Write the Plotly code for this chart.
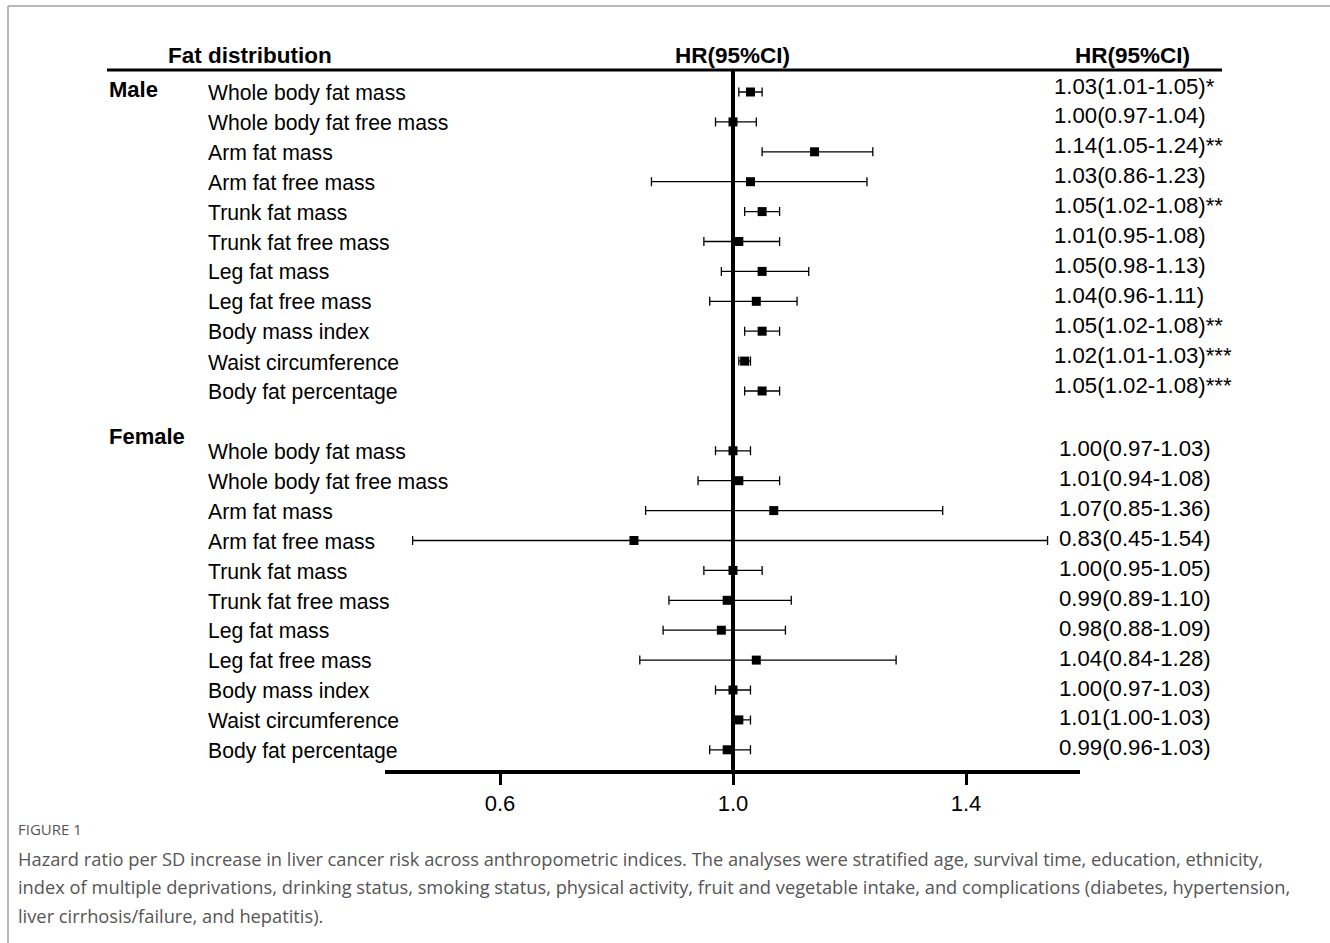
import plotly.graph_objects as go

W, H = 1330, 943

labels = ["Whole body fat mass", "Whole body fat free mass", "Arm fat mass", "Arm fat free mass",
          "Trunk fat mass", "Trunk fat free mass", "Leg fat mass", "Leg fat free mass",
          "Body mass index", "Waist circumference", "Body fat percentage"]

male_hr = [1.03, 1.00, 1.14, 1.03, 1.05, 1.01, 1.05, 1.04, 1.05, 1.02, 1.05]
male_lo = [1.01, 0.97, 1.05, 0.86, 1.02, 0.95, 0.98, 0.96, 1.02, 1.01, 1.02]
male_hi = [1.05, 1.04, 1.24, 1.23, 1.08, 1.08, 1.13, 1.11, 1.08, 1.03, 1.08]
male_sig = ["*", "", "**", "", "**", "", "", "", "**", "***", "***"]

female_hr = [1.00, 1.01, 1.07, 0.83, 1.00, 0.99, 0.98, 1.04, 1.00, 1.01, 0.99]
female_lo = [0.97, 0.94, 0.85, 0.45, 0.95, 0.89, 0.88, 0.84, 0.97, 1.00, 0.96]
female_hi = [1.03, 1.08, 1.36, 1.54, 1.05, 1.10, 1.09, 1.28, 1.03, 1.03, 1.03]
female_sig = [""] * 11

tick_vals = [0.6, 1.0, 1.4]
tick_text = ["0.6", "1.0", "1.4"]

caption_lines = [
    "Hazard ratio per SD increase in liver cancer risk across anthropometric indices. The analyses were stratified age, survival time, education, ethnicity,",
    "index of multiple deprivations, drinking status, smoking status, physical activity, fruit and vegetable intake, and complications (diabetes, hypertension,",
    "liver cirrhosis/failure, and hepatitis).",
]

ROW = 29.9
Y0 = 92  # pixel y of first row


def py(p):
    return 1 - p / H


def px(p):
    return p / W


male_rows = list(range(11))
female_rows = [12 + i for i in range(11)]

FONT = "Liberation Sans"

fig = go.Figure()
for hr, lo, hi, rows in [(male_hr, male_lo, male_hi, male_rows),
                         (female_hr, female_lo, female_hi, female_rows)]:
    fig.add_trace(go.Scatter(
        x=hr, y=rows, mode="markers",
        marker=dict(symbol="square", size=9, color="black"),
        error_x=dict(type="data", symmetric=False,
                     array=[h - m for h, m in zip(hi, hr)],
                     arrayminus=[m - l for m, l in zip(hr, lo)],
                     color="black", thickness=1.3, width=4.5),
        showlegend=False, hoverinfo="skip"))

top_px, bot_px = 70, 770
r_top = (top_px - Y0) / ROW
r_bot = (bot_px - Y0) / ROW

fig.update_layout(
    width=W, height=H, margin=dict(l=0, r=0, t=0, b=0),
    paper_bgcolor="white", plot_bgcolor="white",
    xaxis=dict(domain=[px(385), px(1080)], range=[1.0 - (733 - 385) / 582.5, 1.0 + (1080 - 733) / 582.5],
               tickvals=tick_vals, ticktext=tick_text, ticks="outside", ticklen=11, tickwidth=3,
               tickcolor="black", showline=True, linewidth=3.5, linecolor="black",
               showgrid=False, zeroline=False,
               tickfont=dict(family=FONT, size=22, color="black")),
    yaxis=dict(domain=[py(bot_px), py(top_px)], range=[r_bot, r_top], visible=False,
               showgrid=False, zeroline=False),
)

shapes = []
shapes.append(dict(type="line", xref="x", yref="paper", x0=1.0, x1=1.0, y0=py(bot_px), y1=py(top_px),
                   line=dict(color="black", width=4)))
shapes.append(dict(type="line", xref="paper", yref="paper", x0=px(107), x1=px(1222), y0=py(70), y1=py(70),
                   line=dict(color="black", width=3)))
shapes.append(dict(type="line", xref="paper", yref="paper", x0=px(8), x1=1, y0=py(6), y1=py(6),
                   line=dict(color="#b8b8b8", width=2)))
shapes.append(dict(type="line", xref="paper", yref="paper", x0=px(8), x1=px(8), y0=py(6), y1=0,
                   line=dict(color="#b8b8b8", width=2)))
fig.update_layout(shapes=shapes)

ann = []


def text(x, y, s, size=20, bold=False, anchor="left", color="black", family=FONT, yref="paper", yshift=0):
    ann.append(dict(x=x, y=y, xref="paper", yref=yref, text=("<b>%s</b>" % s) if bold else s,
                    showarrow=False, xanchor=anchor, yanchor="middle", yshift=yshift,
                    font=dict(family=family, size=size, color=color)))


text(px(166), py(55), "Fat distribution", size=22.5, bold=True)
text(px(733), py(55), "HR(95%CI)", size=22.5, bold=True, anchor="center")
text(px(1073), py(55), "HR(95%CI)", size=22.5, bold=True)
text(px(107), py(90), "Male", size=22, bold=True)
text(px(107), py(437), "Female", size=22, bold=True)

for rows, hr, lo, hi, sig, xr, ys in [(male_rows, male_hr, male_lo, male_hi, male_sig, 1052, 6),
                                      (female_rows, female_hr, female_lo, female_hi, female_sig, 1057, 2)]:
    for i, r in enumerate(rows):
        text(px(206), r, labels[i], size=21.2, yref="y", yshift=-1)
        s = "%.2f(%.2f-%.2f)%s" % (hr[i], lo[i], hi[i], sig[i])
        text(px(xr), r, s, size=22.2, yref="y", yshift=ys)

CAP = "Open Sans"
text(px(16), py(829), "FIGURE 1", size=15, color="#555555", family=CAP)
for k, line in enumerate(caption_lines):
    text(px(16), py(858 + 28.5 * k), line, size=18.3, color="#555555", family=CAP)

fig.update_layout(annotations=ann)
fig.write_html("out.html", post_script="document.body.style.margin='0';",
               config={"displayModeBar": False})
